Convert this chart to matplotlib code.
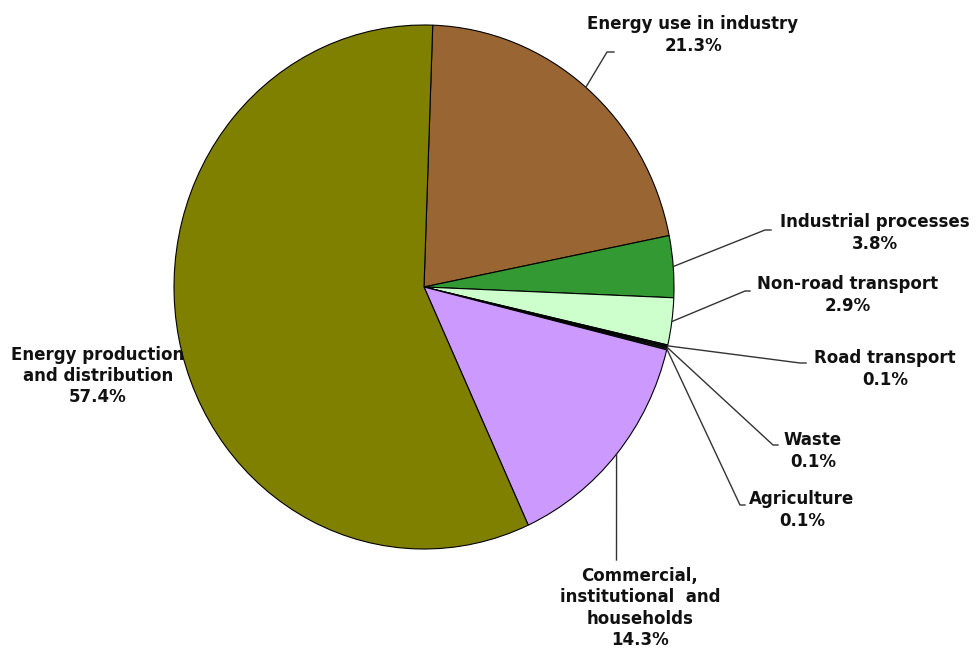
import numpy as np
import matplotlib
matplotlib.use('Agg')
import matplotlib.pyplot as plt

# Sector shares (%), clockwise from the top
sectors = ['Energy use in industry', 'Industrial processes', 'Non-road transport',
           'Road transport', 'Waste', 'Agriculture',
           'Commercial,\ninstitutional  and\nhouseholds',
           'Energy production\nand distribution']
shares = [21.3, 3.8, 2.9, 0.1, 0.1, 0.1, 14.3, 57.4]
colors = ['#996633', '#339933', '#ccffcc', '#222222', '#333333', '#444444',
          '#cc99ff', '#808000']

# layout in pixels: pie centre, radii, label centres and leader elbows
W, H = 976, 648
CX, CY, RX, RY = 424, 287, 250, 262
label_pos = [(693, 35), (875, 233), (848, 295), (885, 369), (813, 451),
             (802, 510), (640, 608), (98, 376)]
elbows = [((607, 52), (614, 52)), ((765, 230), (771, 230)),
          ((745, 291), (750, 291)), ((800, 363), (806, 363)),
          ((773, 445), (778, 445)), ((740, 505), (745, 505)),
          ((616.5, 560), None), None]


def px(x, y):
    return (x - CX) / RX, (CY - y) / RY


fig = plt.figure(figsize=(W / 100, H / 100), dpi=100)
ax = fig.add_axes([0, 0, 1, 1])
wedges, _ = ax.pie(shares, colors=colors, startangle=88, counterclock=False,
                   wedgeprops=dict(edgecolor='black', linewidth=0.8))
ax.set_aspect('auto')
ax.set_xlim(-CX / RX, (W - CX) / RX)
ax.set_ylim(-(H - CY) / RY, CY / RY)
ax.axis('off')

for w, name, val, pos, elb in zip(wedges, sectors, shares, label_pos, elbows):
    if elb is not None:
        mid = np.deg2rad((w.theta1 + w.theta2) / 2)
        xs = [np.cos(mid), px(*elb[0])[0]]
        ys = [np.sin(mid), px(*elb[0])[1]]
        if elb[1] is not None:
            xs.append(px(*elb[1])[0])
            ys.append(px(*elb[1])[1])
        ax.plot(xs, ys, color='#333333', lw=1.0)
    tx, ty = px(*pos)
    ax.text(tx, ty, '%s\n%.1f%%' % (name, val), ha='center', va='center',
            multialignment='center', fontsize=12, fontweight='bold',
            color='#111111', linespacing=1.22)

fig.savefig('out.png', dpi=100, facecolor='white')
